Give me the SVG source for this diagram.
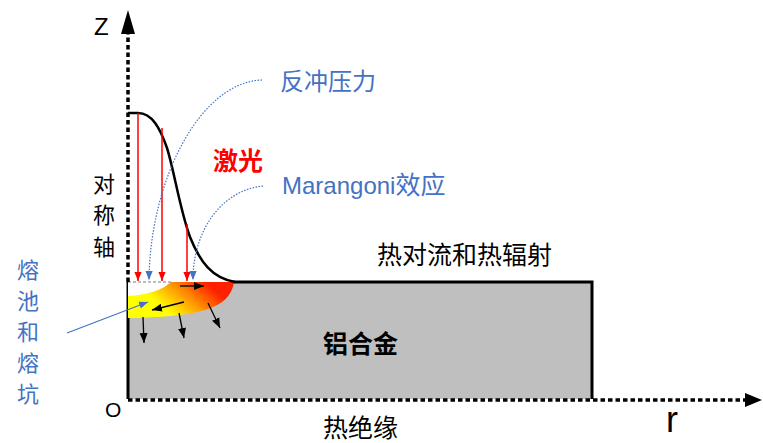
<svg xmlns="http://www.w3.org/2000/svg" width="763" height="443" viewBox="0 0 763 443">
  <style>
    .cjk { font-family: "Noto Sans CJK SC", "Noto Sans", sans-serif; }
    .lat { font-family: "Liberation Sans", Arial, sans-serif; }
    .blue { fill: #4472C4; }
    .axis { stroke: #000; stroke-width: 3.5; stroke-dasharray: 4.5 3; fill: none; }
    .beam { stroke: #FF0000; stroke-width: 1.5; fill: none; }
    .lead { stroke: #4472C4; stroke-width: 1.2; stroke-dasharray: 1.5 1.5; fill: none; }
    .flow { stroke: #000; stroke-width: 1.3; fill: none; }
  </style>
  <defs>
    <marker id="redHead" markerUnits="userSpaceOnUse" markerWidth="9" markerHeight="12" refX="10" refY="4" viewBox="0 0 10 8" orient="auto">
      <path d="M0,0 L10,4 L0,8 Z" fill="#FF0000"/>
    </marker>
    <marker id="blueHead" markerUnits="userSpaceOnUse" markerWidth="9" markerHeight="12" refX="10" refY="4" viewBox="0 0 10 8" orient="auto">
      <path d="M0,0 L10,4 L0,8 Z" fill="#4472C4"/>
    </marker>
    <marker id="blackHead" markerUnits="userSpaceOnUse" markerWidth="10" markerHeight="10" refX="10" refY="4" viewBox="0 0 10 8" orient="auto">
      <path d="M0,0 L10,4 L0,8 Z" fill="#000"/>
    </marker>
    <linearGradient id="poolHeat" gradientUnits="userSpaceOnUse" x1="205" y1="282" x2="175" y2="318">
      <stop offset="0" stop-color="#FF2000"/>
      <stop offset="0.45" stop-color="#FF8C00"/>
      <stop offset="1" stop-color="#FFFF00"/>
    </linearGradient>
  </defs>

  <!-- aluminium block -->
  <g id="block">
    <rect x="128" y="282" width="464" height="117" fill="#BFBFBF"/>
    <path d="M128,399 L128,282 M233,282 L592,282 L592,399" stroke="#000" stroke-width="3" fill="none"/>
    <text class="cjk" x="323" y="353" font-size="25" font-weight="bold">铝合金</text>
  </g>

  <!-- melt pool and crater -->
  <g id="melt-pool">
    <path d="M128,282 L234,282 C232,296 222,305 205,310 C185,316 150,318 128,318 Z" fill="url(#poolHeat)"/>
    <path d="M128,282 L171,282 C163,290 146,295 128,296 Z" fill="#FFF"/>
    <line x1="128" y1="282" x2="172" y2="282" stroke="#A6A6A6" stroke-width="1.5" stroke-dasharray="3 2"/>
  </g>

  <!-- axes -->
  <g id="axes">
    <line class="axis" x1="128" y1="282" x2="128" y2="33"/>
    <path d="M128,10 L121,34 L135,34 Z" fill="#000"/>
    <line class="axis" x1="128" y1="400" x2="746" y2="400"/>
    <path d="M762,400 L745,393 L745,407 Z" fill="#000"/>
    <text class="lat" x="94" y="35" font-size="24">Z</text>
    <text class="lat" x="666" y="432" font-size="36">r</text>
    <text class="lat" x="105" y="417" font-size="21">O</text>
  </g>

  <!-- beam intensity profile -->
  <g id="laser-profile">
    <path d="M128,113 L138,113 C152,113 160,128 167,148 C174,170 180,210 190,237 C200,262 212,278 235,282" stroke="#000" stroke-width="2.5" fill="none"/>
  </g>

  <g id="connectors">
    <!-- laser rays -->
    <line class="beam" x1="138" y1="113" x2="138" y2="281" marker-end="url(#redHead)"/>
    <line class="beam" x1="162" y1="128" x2="162" y2="281" marker-end="url(#redHead)"/>
    <line class="beam" x1="187" y1="224" x2="187" y2="281" marker-end="url(#redHead)"/>
    <!-- label leaders -->
    <path class="lead" d="M262,80 C200,82 150,180 149,280" marker-end="url(#blueHead)"/>
    <path class="lead" d="M263,186 C222,190 193,230 193,280" marker-end="url(#blueHead)"/>
    <line x1="67" y1="333" x2="148" y2="302" stroke="#4472C4" stroke-width="1.2" marker-end="url(#blueHead)"/>
    <!-- flow and heat transfer arrows -->
    <line class="flow" x1="180" y1="286" x2="204" y2="286" marker-end="url(#blackHead)"/>
    <line class="flow" x1="184" y1="302" x2="152" y2="310" marker-end="url(#blackHead)"/>
    <line class="flow" x1="143" y1="317" x2="144" y2="343" marker-end="url(#blackHead)"/>
    <line class="flow" x1="179" y1="313" x2="184" y2="338" marker-end="url(#blackHead)"/>
    <line class="flow" x1="208" y1="303" x2="220" y2="328" marker-end="url(#blackHead)"/>
  </g>

  <!-- labels -->
  <g id="label-recoil">
    <text class="cjk blue" x="280" y="90" font-size="24">反冲压力</text>
  </g>
  <g id="label-laser">
    <text class="cjk" x="213" y="170" font-size="25" font-weight="bold" fill="#FF0000">激光</text>
  </g>
  <g id="label-marangoni">
    <text class="blue" x="282" y="194" font-size="24"><tspan class="lat">Marangoni</tspan><tspan class="cjk" font-size="25">效应</tspan></text>
  </g>
  <g id="label-axis">
    <text class="cjk" x="104" y="192" font-size="22" text-anchor="middle">对</text>
    <text class="cjk" x="104" y="223" font-size="22" text-anchor="middle">称</text>
    <text class="cjk" x="104" y="255" font-size="22" text-anchor="middle">轴</text>
  </g>
  <g id="label-pool">
    <text class="cjk blue" x="28" y="278" font-size="22" text-anchor="middle">熔</text>
    <text class="cjk blue" x="28" y="309" font-size="22" text-anchor="middle">池</text>
    <text class="cjk blue" x="28" y="340" font-size="22" text-anchor="middle">和</text>
    <text class="cjk blue" x="28" y="371" font-size="22" text-anchor="middle">熔</text>
    <text class="cjk blue" x="28" y="402" font-size="22" text-anchor="middle">坑</text>
  </g>
  <g id="label-convection">
    <text class="cjk" x="377" y="264" font-size="25">热对流和热辐射</text>
  </g>
  <g id="label-insulation">
    <text class="cjk" x="323" y="437" font-size="25">热绝缘</text>
  </g>
</svg>
